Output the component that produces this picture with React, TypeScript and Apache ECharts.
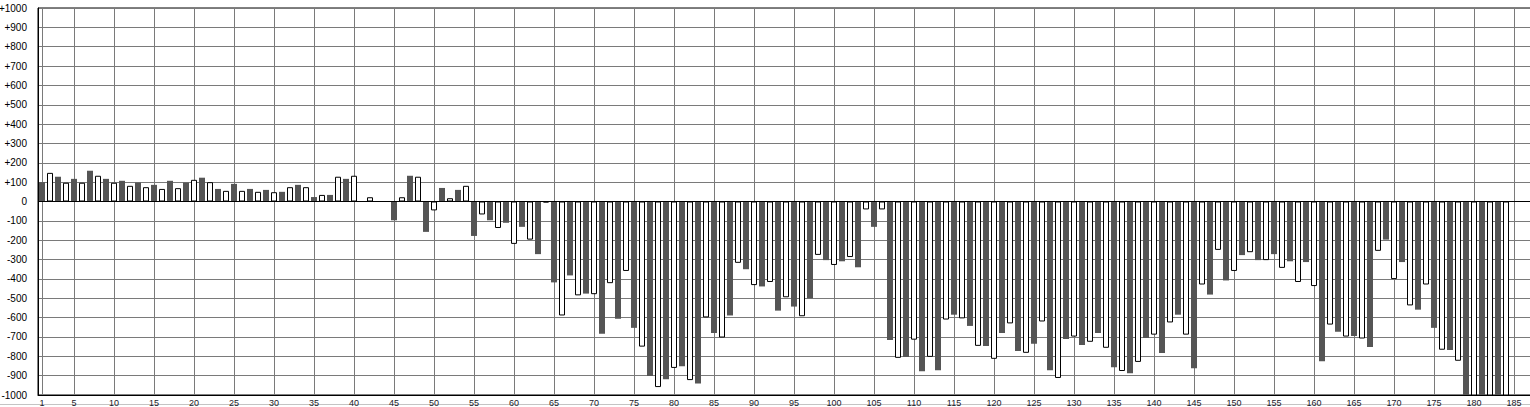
import React, { useEffect, useRef } from "react";
import * as echarts from "echarts";

// categories 1..187 (the plot area runs a little past 185 and is cut by the page edge)
const categories: string[] = Array.from({ length: 187 }, (_, i) => String(i + 1));

const xTickLabels: string[] = [
  "1", "5", "10", "15", "20", "25", "30", "35", "40", "45", "50", "55", "60", "65", "70", "75", "80", "85", "90",
  "95", "100", "105", "110", "115", "120", "125", "130", "135", "140", "145", "150", "155", "160", "165", "170",
  "175", "180", "185",
];

// values for categories 1..185 (odd = dark bars, even = white bars)
const values: number[] = [
  100, 148, 128, 97, 117, 97, 159, 133, 117, 97,
  107, 81, 98, 74, 86, 65, 107, 69, 98, 112,
  123, 100, 65, 55, 91, 55, 65, 50, 60, 48,
  50, 74, 86, 74, 23, 34, 34, 128, 117, 133,
  0, 22, 0, 0, -97, 22, 133, 128, -157, -46,
  70, 17, 60, 81, -178, -67, -97, -137, -110, -219,
  -131, -197, -272, -5, -418, -589, -382, -485, -476, -479,
  -684, -422, -606, -359, -653, -750, -902, -959, -919, -860,
  -851, -923, -940, -599, -679, -703, -589, -317, -350, -432,
  -439, -416, -564, -495, -543, -593, -500, -276, -303, -328,
  -309, -287, -340, -41, -131, -41, -716, -808, -803, -714,
  -877, -803, -872, -610, -585, -604, -643, -746, -747, -813,
  -679, -630, -773, -782, -735, -620, -872, -912, -710, -698,
  -742, -725, -679, -756, -857, -876, -888, -829, -705, -688,
  -783, -625, -585, -688, -862, -429, -481, -250, -408, -359,
  -277, -262, -303, -303, -272, -343, -309, -416, -313, -437,
  -825, -636, -673, -698, -695, -708, -752, -255, -197, -401,
  -313, -537, -559, -429, -653, -766, -768, -823, -1040, -1040,
  -1040, -1040, -1040, -1040, 0,
];

const DARK = "#555555";
const GRID = "#7a7a7a";
const FONT = "'Liberation Sans', Arial, sans-serif";

export default function App() {
  const ref = useRef<HTMLDivElement>(null);

  useEffect(() => {
    if (!ref.current) return;
    const chart = echarts.init(ref.current, null, { renderer: "svg" });
    const tickSet = new Set(xTickLabels);

    const barData = values.map((v, i) => ({
      value: v,
      itemStyle:
        i % 2 === 0
          ? { color: DARK, borderWidth: 0 }
          : { color: "#ffffff", borderColor: "#000000", borderWidth: 1 },
    }));

    chart.setOption({
      animation: false,
      grid: {
        left: 38,
        top: 8,
        width: 1496,
        height: 387,
        containLabel: false,
        outerBoundsMode: "none",
        show: true,
        borderColor: "#000",
        borderWidth: 1,
        backgroundColor: "transparent",
      },
      xAxis: {
        type: "category",
        data: categories,
        boundaryGap: true,
        axisLine: { show: true, onZero: false, lineStyle: { color: "#000", width: 1 } },
        axisTick: { show: false },
        splitLine: { show: false },
        axisLabel: {
          interval: (_index: number, value: string) => tickSet.has(value),
          margin: 3,
          fontSize: 9,
          color: "#1a1a2a",
          fontFamily: FONT,
        },
      },
      yAxis: {
        type: "value",
        min: -1000,
        max: 1000,
        interval: 100,
        axisLine: { show: true, lineStyle: { color: "#000", width: 1 } },
        axisTick: { show: false },
        splitLine: { show: true, lineStyle: { color: GRID, width: 1 } },
        axisLabel: {
          formatter: (v: number) => (v > 0 ? "+" + v : String(v)),
          margin: 11,
          fontSize: 10,
          color: "#000",
          fontFamily: FONT,
        },
      },
      series: [
        {
          type: "line",
          data: [],
          silent: true,
          markLine: {
            silent: true,
            z: 1,
            symbol: ["none", "none"],
            label: { show: false },
            lineStyle: { color: GRID, width: 1, type: "solid" },
            emphasis: { disabled: true },
            data: xTickLabels.map((c) => ({ xAxis: c })),
          },
        },
        {
          type: "bar",
          data: barData,
          barWidth: 6,
          z: 2,
          silent: true,
          markLine: {
            silent: true,
            z: 3,
            symbol: ["none", "none"],
            label: { show: false },
            lineStyle: { color: "#000", width: 1, type: "solid" },
            emphasis: { disabled: true },
            data: [{ yAxis: 0 }],
          },
        },
      ],
      graphic: [
        {
          type: "line",
          shape: { x1: 0, y1: 404.5, x2: 1530, y2: 404.5 },
          style: { stroke: "#c4c4c4", lineWidth: 1 },
          silent: true,
        },
      ],
    });

    return () => {
      chart.dispose();
    };
  }, []);

  return (
    <div
      ref={ref}
      style={{ position: "fixed", left: 0, top: 0, width: 1530, height: 407, background: "#fff" }}
    />
  );
}
